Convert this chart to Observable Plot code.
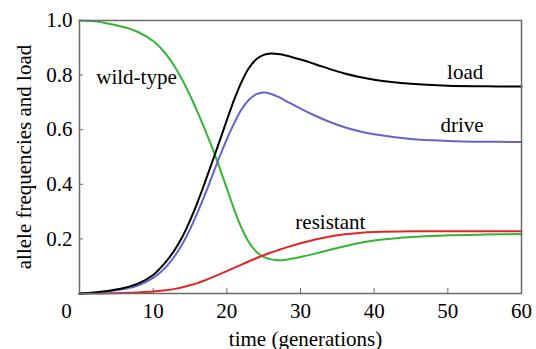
<!DOCTYPE html>
<html><head><meta charset="utf-8">
<script src="https://cdn.jsdelivr.net/npm/d3@7"></script>
<script src="https://cdn.jsdelivr.net/npm/@observablehq/plot@0.6"></script>
<style>
html,body{margin:0;padding:0;background:#fff}
svg text, svg tspan{font-family:"Liberation Serif","Times New Roman",Times,"DejaVu Serif",serif !important;}
</style>
</head><body><div id="chart"></div>
<script>
// time (generations)
const time      = [0, 2, 4, 6, 8, 10, 11, 12, 13, 14, 15, 16, 17, 18, 19, 20, 21, 22, 23, 24, 25, 26, 27, 28, 30, 32, 34, 36, 38, 40, 45, 50, 55, 60];
const wildType  = [1.0, 0.997, 0.988, 0.976, 0.957, 0.925, 0.9, 0.868, 0.828, 0.78, 0.726, 0.666, 0.602, 0.535, 0.462, 0.385, 0.308, 0.24, 0.188, 0.153, 0.134, 0.125, 0.122, 0.124, 0.134, 0.146, 0.16, 0.173, 0.185, 0.194, 0.207, 0.213, 0.216, 0.218];
const load      = [0.0, 0.004, 0.01, 0.02, 0.037, 0.068, 0.094, 0.125, 0.163, 0.21, 0.267, 0.333, 0.405, 0.48, 0.557, 0.635, 0.71, 0.775, 0.826, 0.858, 0.874, 0.879, 0.877, 0.872, 0.857, 0.84, 0.822, 0.806, 0.793, 0.783, 0.768, 0.761, 0.759, 0.758];
const drive     = [0.0, 0.003, 0.008, 0.016, 0.03, 0.057, 0.078, 0.105, 0.14, 0.183, 0.235, 0.295, 0.36, 0.43, 0.5, 0.565, 0.624, 0.675, 0.71, 0.73, 0.736, 0.731, 0.72, 0.706, 0.677, 0.651, 0.628, 0.609, 0.594, 0.583, 0.566, 0.559, 0.556, 0.555];
const resistant = [0.0, 0.0, 0.001, 0.002, 0.004, 0.007, 0.01, 0.013, 0.017, 0.023, 0.03, 0.038, 0.048, 0.059, 0.07, 0.082, 0.094, 0.106, 0.118, 0.129, 0.14, 0.15, 0.159, 0.168, 0.184, 0.198, 0.209, 0.217, 0.222, 0.225, 0.228, 0.228, 0.228, 0.228];

const seriesNames  = ["wild-type", "resistant", "drive", "load"];
const seriesValues = [wildType, resistant, drive, load];
const seriesColors = ["#34b534", "#e52424", "#6464c8", "#000000"];

const xTickValues = [0, 10, 20, 30, 40, 50, 60];
const yTickValues = [0.2, 0.4, 0.6, 0.8, 1.0];

const labelText  = ["wild-type", "load", "drive", "resistant"];
const labelTime  = [2.27, 49.9, 49.0, 29.3];
const labelValue = [0.769, 0.786, 0.591, 0.237];

const xTitle = "time (generations)";
const yTitle = "allele frequencies and load";

const rows = [];
seriesNames.forEach((name, s) => {
  time.forEach((t, i) => rows.push({series: name, t, v: seriesValues[s][i]}));
});
const labels = labelText.map((text, i) => ({text, t: labelTime[i], v: labelValue[i]}));

const FS = 21;
const SERIF = "Liberation Serif, Times New Roman, Times, DejaVu Serif, serif";
const chart = Plot.plot({
  width: 536,
  height: 349,
  marginLeft: 79,
  marginRight: 15,
  marginTop: 20,
  marginBottom: 56,
  style: {fontSize: FS + "px", background: "#fff", color: "#000"},
  x: {domain: [0, 60]},
  y: {domain: [0, 1]},
  color: {domain: seriesNames, range: seriesColors},
  marks: [
    // tick labels
    Plot.axisX({ticks: xTickValues.filter(d => d > 0), tickSize: 0, tickPadding: 10, tickFormat: d => String(d), fontSize: FS, fontFamily: SERIF, label: null}),
    Plot.axisX({ticks: xTickValues.filter(d => d === 0), tickSize: 0, tickPadding: 10, dx: -13, tickFormat: d => String(d), fontSize: FS, fontFamily: SERIF, label: null}),
    Plot.axisY({ticks: yTickValues, tickSize: 0, tickPadding: 7, tickFormat: d => d.toFixed(1), fontSize: FS, fontFamily: SERIF, label: null}),
    // inward tick marks
    Plot.axisX({ticks: xTickValues.filter(d => d > 0 && d < 60), tickSize: 5, dy: -5, tickFormat: () => "", stroke: "#666", label: null}),
    Plot.axisY({ticks: yTickValues.filter(d => d < 1), tickSize: 4, dx: 4, tickFormat: () => "", stroke: "#666", label: null}),
    // curves
    Plot.line(rows, {x: "t", y: "v", z: "series", stroke: "series", strokeWidth: 2, curve: "catmull-rom"}),
    Plot.frame({stroke: "#6a6a6a", strokeWidth: 1.5}),
    // series labels
    Plot.text(labels, {x: "t", y: "v", text: "text", textAnchor: "start", lineAnchor: "bottom", fontSize: FS, fontFamily: SERIF, fill: "#000"}),
    // axis titles
    Plot.text([xTitle], {text: d => d, frameAnchor: "bottom", textAnchor: "middle", lineAnchor: "bottom", dy: 52, dx: 5, fontSize: FS, fontFamily: SERIF, fill: "#000"}),
    Plot.text([yTitle], {text: d => d, frameAnchor: "left", textAnchor: "middle", rotate: -90, lineAnchor: "middle", dx: -55, fontSize: FS, fontFamily: SERIF, fill: "#000"})
  ]
});
d3.select(chart).selectAll("text").attr("font-family", SERIF).style("font-family", SERIF);
document.getElementById("chart").appendChild(chart);
</script>
</body></html>
